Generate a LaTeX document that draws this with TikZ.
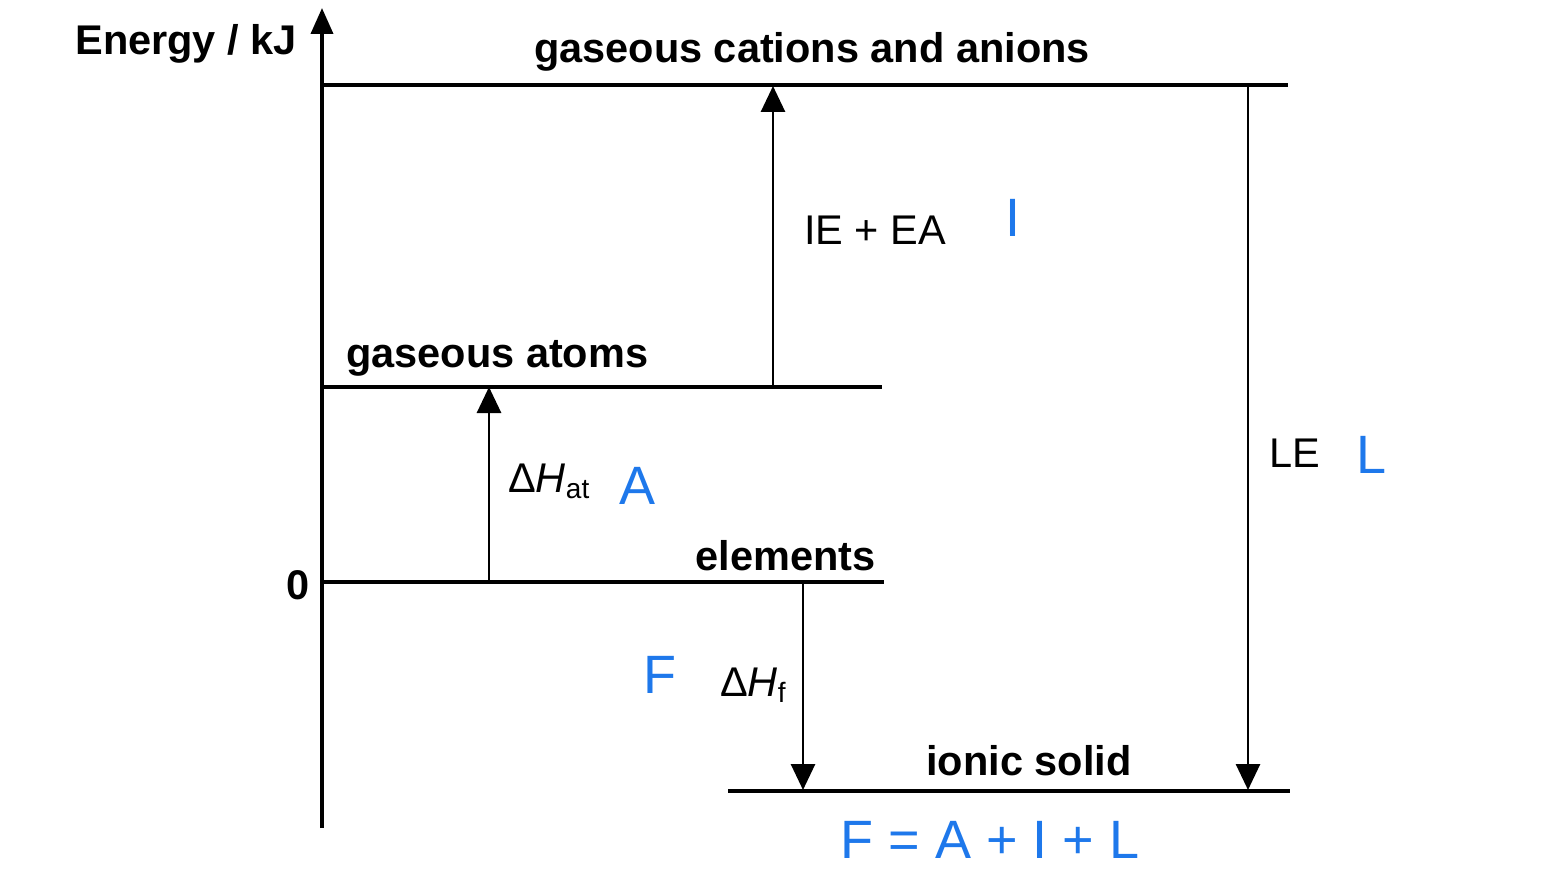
\documentclass[tikz,border=0pt]{standalone}
\usepackage{fontspec}
\setmainfont{Liberation Sans}
\usetikzlibrary{arrows.meta}
\begin{document}
\begin{tikzpicture}[x=1pt,y=-1pt,
  lvl/.style={line width=3.2pt},
  arr/.style={line width=2.8pt,-{Triangle[length=26pt,width=24pt]}},
  bl/.style={font=\bfseries\fontsize{41.5}{44}\selectfont,inner sep=0pt},
  rg/.style={font=\fontsize{41.5}{44}\selectfont,inner sep=0pt},
  hw/.style={font=\fontsize{54}{58}\selectfont,text=hand,inner sep=0pt}]
\definecolor{hand}{RGB}{30,120,235}
\useasboundingbox (0,0) rectangle (1567,888);
% axis
\coordinate (ab) at (322,828); \coordinate (at) at (322,8);
\draw[line width=3.8pt,-{Triangle[length=26pt,width=22pt]}] (ab) -- (at);
\node[bl,anchor=east] (ylab) at (297,44) {Energy / kJ};
\node[bl,anchor=east] (zero) at (310,585) {0};
% levels
\coordinate (c1) at (322,85); \coordinate (c2) at (1288,85);
\coordinate (g1) at (322,387); \coordinate (g2) at (882,387);
\coordinate (e1) at (322,582); \coordinate (e2) at (884,582);
\coordinate (s1) at (728,791); \coordinate (s2) at (1290,791);
\draw[lvl] (c1) -- (c2); \draw[lvl] (g1) -- (g2);
\draw[lvl] (e1) -- (e2); \draw[lvl] (s1) -- (s2);
\node[bl] (lc) at (812,52) {gaseous cations and anions};
\node[bl,anchor=west] (lg) at (346,358) {gaseous atoms};
\node[bl,anchor=east] (le) at (876,556) {elements};
\node[bl] (ls) at (1029,761) {ionic solid};
% arrows
\coordinate (a1) at (489,582); \coordinate (a2) at (489,387);
\draw[arr] (a1) -- (a2);
\coordinate (b1) at (773,387); \coordinate (b2) at (773,86);
\draw[arr] (b1) -- (b2);
\coordinate (f1) at (803,582); \coordinate (f2) at (803,790);
\draw[arr] (f1) -- (f2);
\coordinate (l1) at (1248,86); \coordinate (l2) at (1248,790);
\draw[arr] (l1) -- (l2);
% labels
\node[rg,anchor=west] (hat) at (508,481) {Δ\textit{H}\fontsize{28}{30}\selectfont\raisebox{-6pt}{at}};
\node[rg,anchor=west] (hf) at (720,685) {Δ\textit{H}\fontsize{28}{30}\selectfont\raisebox{-6pt}{f}};
\node[rg,anchor=west] (ie) at (804,230) {IE + EA};
\node[rg,anchor=west] (lelab) at (1269,453) {LE};
\node[hw] (hA) at (638,486) {A};
\node[hw] (hI) at (1013,218) {I};
\node[hw] (hF) at (660,675) {F};
\node[hw] (hL) at (1372,455) {L};
\node[hw] (eq) at (990,840) {F = A + I + L};
\end{tikzpicture}
\end{document}
